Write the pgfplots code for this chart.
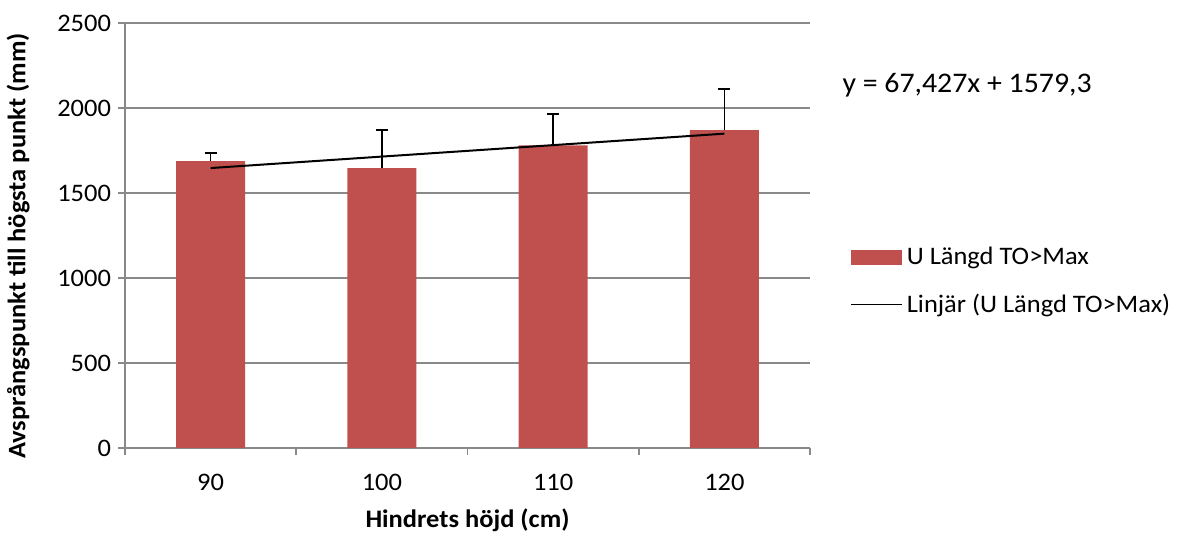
\documentclass[border=0pt]{standalone}
\usepackage{pgfplots}
\pgfplotsset{compat=1.18}
\usepackage{fontspec}
\setmainfont{Carlito}[FakeStretch=1.05]
\definecolor{barred}{HTML}{C0504D}
\definecolor{gridgray}{HTML}{898989}
\begin{document}
\begin{tikzpicture}[font=\fontsize{12.6}{15}\selectfont]
\begin{axis}[
  at={(0,0)}, anchor=south west,
  scale only axis, width=342.5pt, height=212.5pt,
  clip=false,
  xmin=0.5, xmax=4.5, ymin=0, ymax=2500,
  axis x line=bottom, axis y line=left,
  axis line style={draw=gridgray, line width=0.8pt, -},
  xtick={1,2,3,4}, xticklabels={90,100,110,120},
  xtick style={draw=none},
  extra x ticks={0.5,1.5,2.5,3.5,4.5},
  extra x tick labels={},
  extra x tick style={xtick style={draw=gridgray, line width=0.8pt}, major tick length=3.5pt, tick align=outside},
  ytick={0,500,1000,1500,2000,2500},
  ytick style={draw=gridgray, line width=0.8pt},
  tick align=outside, major tick length=3.5pt,
  ymajorgrids, grid style={draw=gridgray, line width=0.8pt},
  /pgf/number format/assume math mode=true,
  /pgf/number format/1000 sep={},
  xticklabel style={yshift=-6pt},
  xlabel={\bfseries Hindrets höjd (cm)},
  ylabel={\bfseries Avsprångspunkt till högsta punkt (mm)},
  xlabel style={at={(axis description cs:0.5,-0.169)}, anchor=center},
  ylabel style={at={(axis description cs:-0.156,0.475)}, anchor=center},
  legend style={at={(1.05,0.392)}, anchor=west, draw=none, fill=none,
    cells={anchor=west}, row sep=9pt, font=\fontsize{12.6}{15}\selectfont},
]
\addplot[ybar, bar width=34.5pt, fill=barred, draw=none,
  area legend,
  legend image code/.code={\fill[barred] (0pt,-3.75pt) rectangle (25.5pt,3.75pt);},
  error bars/.cd, y dir=plus, y explicit,
  error bar style={black, line width=0.75pt},
  error mark options={black, rotate=90, mark size=3pt, line width=0.9pt}]
  coordinates {
    (1,1687) +- (0,49)
    (2,1646) +- (0,224)
    (3,1780) +- (0,183)
    (4,1870) +- (0,244)
  };
\addlegendentry{U Längd TO>Max}
\addplot[black, line width=1pt, mark=none,
  legend image code/.code={\draw[black, line width=0.6pt] (0pt,0pt) -- (25.5pt,0pt);}]
  coordinates {(1,1646.7) (2,1714.2) (3,1781.6) (4,1849.0)};
\addlegendentry{Linjär (U Längd TO>Max)}
\node[anchor=west, inner sep=0pt, font=\fontsize{14.2}{17}\selectfont] at (rel axis cs:1.047,0.854) {y = 67,427x + 1579,3};
\end{axis}
\pgfresetboundingbox
\path[use as bounding box] (-62.5pt,-43.5pt) rectangle (527.5pt,224pt);
\end{tikzpicture}
\end{document}
